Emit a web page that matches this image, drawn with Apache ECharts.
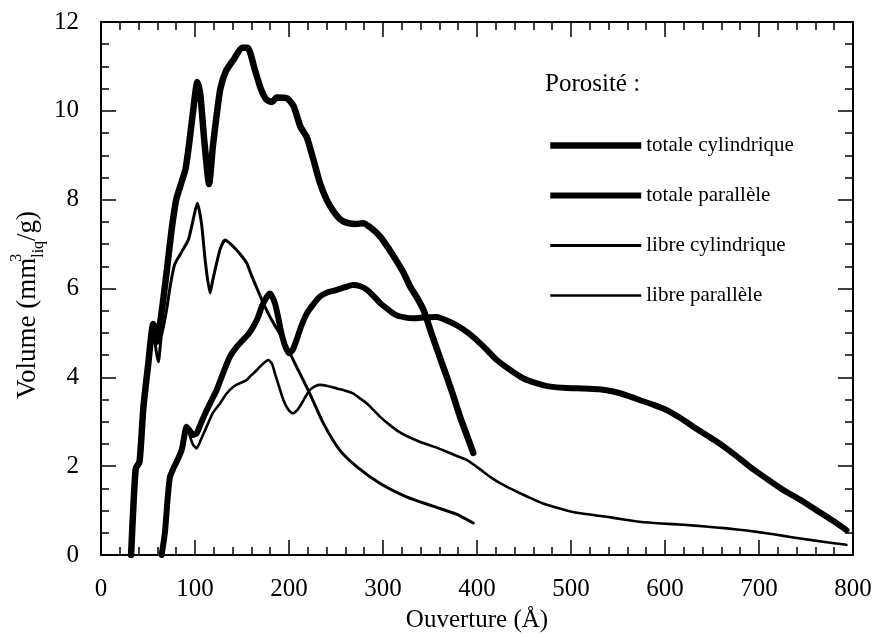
<!DOCTYPE html>
<html><head><meta charset="utf-8">
<script src="https://cdn.jsdelivr.net/npm/echarts@6/dist/echarts.min.js"></script>
<style>html,body{margin:0;padding:0;background:#fff}#c{width:877px;height:637px}</style>
</head><body><div id="c"></div>
<script>
const seriesNames = ['totale cylindrique', 'totale parallèle', 'libre cylindrique', 'libre parallèle'];
const xRange = [0, 800, 100];
const yRange = [0, 12, 2];

const totaleCylindrique = [[32,0],[34,0.9],[37,1.95],[41,2.1],[45,3.3],[50,4.25],[55.5,5.2],[59,4.8],[62,5.1],[65,5.55],[70,6.4],[75,7.3],[80,8.0],[85,8.35],[90,8.7],[94,9.3],[98,10.0],[102.5,10.65],[105.5,10.4],[110,9.3],[115,8.35],[119,9.2],[123,9.9],[127,10.5],[133,10.9],[141,11.15],[150,11.42],[156,11.42],[164,10.9],[170,10.5],[176,10.25],[182,10.2],[187,10.3],[198,10.28],[205,10.1],[212,9.65],[219,9.4],[226,8.9],[233,8.37],[240,8.0],[247,7.75],[255,7.55],[263,7.47],[271,7.45],[279,7.47],[288,7.35],[297,7.17],[306,6.9],[315,6.6],[322,6.35],[329,6.04],[336,5.8],[343,5.52],[353,4.9],[364,4.24],[373,3.7],[382,3.11],[390,2.65],[396,2.3]];

const totaleParallele = [[64.5,0],[68,0.5],[71,1.3],[73.4,1.76],[77,1.95],[80.5,2.1],[85.8,2.36],[88,2.6],[91,2.89],[95,2.78],[98,2.7],[101.7,2.74],[107,3.0],[112.4,3.26],[118,3.5],[123,3.71],[130,4.1],[137,4.46],[144,4.68],[151,4.84],[157,4.98],[162,5.14],[167,5.35],[171,5.59],[176,5.8],[180,5.89],[185,5.67],[189,5.3],[192,4.99],[196,4.7],[200,4.54],[204,4.62],[208,4.84],[213,5.15],[219,5.44],[226,5.65],[233,5.82],[242,5.92],[251,5.97],[260,6.03],[268,6.08],[276,6.05],[283,5.97],[290,5.83],[297,5.67],[306,5.52],[314,5.4],[323,5.35],[332,5.33],[345,5.35],[357,5.36],[371,5.25],[384,5.1],[396,4.91],[409,4.65],[421,4.39],[435,4.17],[449,3.98],[463,3.87],[478,3.79],[495,3.76],[513,3.75],[530,3.73],[545,3.68],[560,3.59],[573,3.49],[588,3.38],[602,3.26],[616,3.09],[630,2.89],[644,2.7],[658,2.51],[674,2.26],[690,1.99],[708,1.72],[726,1.46],[744,1.24],[761,1.01],[778,0.78],[793,0.56]];

const libreCylindrique = [[32,0],[34,0.9],[37,1.95],[41,2.1],[45,3.3],[50,4.25],[55.5,5.2],[58,4.7],[61,4.35],[64,4.9],[67,5.2],[70,5.55],[74,6.1],[78.5,6.55],[86,6.83],[93,7.1],[97,7.45],[102.5,7.92],[107,7.45],[111,6.6],[116,5.9],[119,6.2],[123,6.57],[127,6.9],[132,7.09],[138,7.0],[144,6.87],[150,6.72],[155,6.57],[160,6.3],[166,6.0],[172,5.7],[181.6,5.29],[194,4.84],[208,4.24],[222,3.64],[236.5,2.97],[254,2.36],[272,1.99],[297,1.61],[325,1.31],[353,1.1],[378,0.92],[396,0.72]];

const libreParallele = [[64.5,0],[68,0.5],[71,1.3],[73.4,1.76],[77,1.95],[80.5,2.1],[85.8,2.36],[88,2.6],[91,2.89],[95,2.65],[98,2.48],[101.7,2.4],[106,2.58],[112.4,2.89],[119,3.2],[126.6,3.41],[133,3.62],[140.8,3.79],[148,3.87],[155,3.94],[160,4.05],[165.6,4.16],[172,4.3],[178,4.39],[182,4.3],[185,4.09],[190,3.75],[194,3.49],[199,3.28],[204,3.19],[209,3.27],[213.5,3.41],[218,3.58],[222,3.71],[228,3.8],[233,3.83],[242,3.8],[251,3.75],[260,3.7],[268,3.64],[276,3.52],[283,3.41],[290,3.26],[297,3.11],[307,2.93],[318,2.76],[328,2.65],[339,2.55],[351,2.46],[364,2.36],[376,2.25],[389,2.14],[402,1.95],[414,1.76],[426,1.6],[439,1.46],[455,1.3],[470,1.16],[486,1.06],[502,0.97],[520,0.91],[538,0.86],[556,0.8],[573,0.75],[596,0.71],[620,0.68],[643,0.64],[666,0.6],[687,0.55],[708,0.49],[726,0.43],[744,0.37],[768,0.3],[793,0.23]];

const seriesData = [totaleCylindrique, totaleParallele, libreCylindrique, libreParallele];
const lineWidths = [6.5, 6, 3, 2.6];

const FONT = '"Liberation Serif", "Times New Roman", serif';
const chart = echarts.init(document.getElementById('c'));

function xAxisDef(pos, showLabel) {
  return {
    type: 'value', position: pos, min: xRange[0], max: xRange[1], interval: xRange[2],
    axisLine: { show: true, onZero: false, lineStyle: { color: '#000', width: 2 } },
    axisTick: { show: true, inside: true, length: 15, lineStyle: { color: '#000', width: 1.5 } },
    minorTick: { show: true, splitNumber: 5, length: 8, lineStyle: { color: '#000', width: 1.5 } },
    axisLabel: { show: showLabel, color: '#000', fontFamily: FONT, fontSize: 25, margin: 22 },
    splitLine: { show: false }, minorSplitLine: { show: false }
  };
}
function yAxisDef(pos, showLabel) {
  return {
    type: 'value', position: pos, min: yRange[0], max: yRange[1], interval: yRange[2],
    axisLine: { show: true, onZero: false, lineStyle: { color: '#000', width: 2 } },
    axisTick: { show: true, inside: true, length: 15, lineStyle: { color: '#000', width: 1.5 } },
    minorTick: { show: true, splitNumber: 4, length: 8, lineStyle: { color: '#000', width: 1.5 } },
    axisLabel: { show: showLabel, color: '#000', fontFamily: FONT, fontSize: 25, margin: 22 },
    splitLine: { show: false }, minorSplitLine: { show: false }
  };
}

chart.setOption({
  animation: false,
  backgroundColor: '#fff',
  title: {
    text: 'Porosité :', left: 545, top: 72, padding: 0,
    textStyle: { fontFamily: FONT, fontSize: 25, fontWeight: 'normal', color: '#000' }
  },
  legend: {
    orient: 'vertical', left: 547, top: 135, padding: 0,
    itemWidth: 91, itemHeight: 20, itemGap: 29,
    data: seriesNames.map((n, i) => ({
      name: n,
      itemStyle: { opacity: 0 },
      lineStyle: { width: lineWidths[i], color: '#000', cap: 'butt' }
    })),
    textStyle: { fontFamily: FONT, fontSize: 21, color: '#000', lineHeight: 20 }
  },
  grid: { left: 101, right: 24, top: 22, bottom: 82, containLabel: false },
  xAxis: [xAxisDef('bottom', true), xAxisDef('top', false)],
  yAxis: [yAxisDef('left', true), yAxisDef('right', false)],
  graphic: [
    {
      type: 'text', x: 28, y: 305, rotation: Math.PI / 2,
      style: {
        text: '{a|Volume (mm}{sup|3}{sub|liq}{a|/g)}',
        align: 'center', verticalAlign: 'middle', fill: '#000',
        rich: {
          a: { fontFamily: FONT, fontSize: 27, lineHeight: 38, fill: '#000' },
          sup: { fontFamily: FONT, fontSize: 16, lineHeight: 16, verticalAlign: 'top', width: 0, fill: '#000' },
          sub: { fontFamily: FONT, fontSize: 16, lineHeight: 16, verticalAlign: 'bottom', fill: '#000' }
        }
      }
    },
    {
      type: 'text', x: 477, y: 620,
      style: { text: 'Ouverture (Å)', align: 'center', verticalAlign: 'middle', fontFamily: FONT, fontSize: 25, fill: '#000' }
    }
  ],
  series: seriesNames.map((n, i) => ({
    name: n, type: 'line', data: seriesData[i], symbol: 'none', smooth: 0.2,
    lineStyle: { color: '#000', width: lineWidths[i], join: 'round', cap: 'round' },
    itemStyle: { color: '#000' }
  }))
});
</script></body></html>
